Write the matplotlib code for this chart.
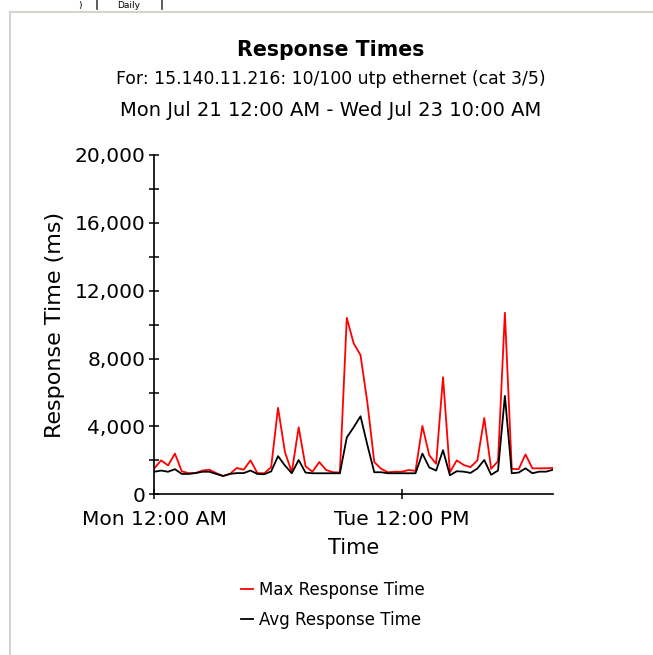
import matplotlib
matplotlib.use("Agg")
import matplotlib.pyplot as plt
import matplotlib.dates as mdates
from matplotlib.lines import Line2D
from matplotlib.ticker import MultipleLocator, FuncFormatter
import pandas as pd

plt.rcParams['font.family'] = ['DejaVu Sans']

# Hourly samples, Mon Jul 21 00:00 through Wed Jul 23 10:00
times = pd.date_range('2003-07-21 00:00', periods=59, freq='h')

max_response = [
    1530, 2000, 1700, 2400, 1350, 1250, 1250, 1400, 1450, 1250,
    1080, 1200, 1550, 1450, 2000, 1250, 1240, 1600, 5100, 2500,
    1300, 3950, 1650, 1330, 1900, 1430, 1300, 1290, 10400, 8900,
    8200, 5400, 1900, 1500, 1300, 1330, 1330, 1430, 1380, 4030,
    2300, 1800, 6900, 1300, 2000, 1730, 1600, 2000, 4500, 1500,
    1950, 10700, 1500, 1480, 2350, 1530, 1530, 1530, 1560,
]
avg_response = [
    1330, 1400, 1330, 1480, 1200, 1200, 1250, 1330, 1330, 1200,
    1080, 1200, 1250, 1250, 1400, 1200, 1180, 1350, 2250, 1700,
    1240, 2020, 1280, 1240, 1240, 1240, 1240, 1240, 3350, 3950,
    4600, 2900, 1300, 1300, 1240, 1240, 1240, 1240, 1240, 2400,
    1580, 1400, 2600, 1120, 1360, 1335, 1260, 1520, 2024, 1150,
    1400, 5800, 1240, 1280, 1530, 1240, 1335, 1335, 1450,
]

title = 'Response Times'
subtitle_1 = 'For: 15.140.11.216: 10/100 utp ethernet (cat 3/5)'
subtitle_2 = 'Mon Jul 21 12:00 AM - Wed Jul 23 10:00 AM'
x_ticks = [pd.Timestamp('2003-07-21 00:00'), pd.Timestamp('2003-07-22 12:00')]
x_range = (pd.Timestamp('2003-07-21 00:00'), pd.Timestamp('2003-07-23 10:00'))

W, H = 653, 655
fig = plt.figure(figsize=(W / 100, H / 100), dpi=100)
fig.patch.set_facecolor('white')


def fx(px):
    return px / W


def fy(py):
    return 1 - py / H


# Tab strip and panel frame at the top
panel = '#d6d3ce'
fig.add_artist(Line2D([fx(10), 1], [fy(11.5), fy(11.5)], color=panel, lw=1.5))
fig.add_artist(Line2D([fx(9.5), fx(9.5)], [fy(11.5), 0], color=panel, lw=1.5))
for sx in (97, 162):
    fig.add_artist(Line2D([fx(sx), fx(sx)], [1, fy(9)], color='#404040', lw=1.2))
fig.text(fx(129), fy(8), 'Daily', ha='center', va='baseline', fontsize=6.5, color='black')
fig.text(fx(80), fy(8), ')', ha='center', va='baseline', fontsize=6.5, color='black')

# Titles
fig.text(fx(331), fy(50), title, ha='center', va='center', fontsize=14.8, fontweight='bold')
fig.text(fx(331), fy(79), subtitle_1, ha='center', va='center', fontsize=12.4)
fig.text(fx(331), fy(111), subtitle_2, ha='center', va='center', fontsize=14)

ax = fig.add_axes([fx(154.3), fy(494.3), fx(553) - fx(154.3), fy(155) - fy(494.3)])
ax.plot(times, max_response, color='#ff0000', lw=1.3, label='Max Response Time')
ax.plot(times, avg_response, color='black', lw=1.3, label='Avg Response Time')

ax.set_xlim(*x_range)
ax.set_ylim(0, 20000)
for side in ('top', 'right'):
    ax.spines[side].set_visible(False)
for side in ('left', 'bottom'):
    ax.spines[side].set_linewidth(1.2)
    ax.spines[side].set_color('black')

ax.yaxis.set_major_locator(MultipleLocator(4000))
ax.yaxis.set_minor_locator(MultipleLocator(2000))
ax.yaxis.set_major_formatter(FuncFormatter(lambda v, p: f'{int(v):,}'))
ax.set_xticks(x_ticks)
ax.xaxis.set_major_formatter(FuncFormatter(
    lambda v, p: mdates.num2date(v).strftime('%a %I:%M %p')))

ax.tick_params(axis='both', which='both', direction='inout', length=7, width=1.1,
               colors='black', labelsize=14.5)
ax.tick_params(axis='y', pad=3)
ax.tick_params(axis='x', pad=8)

ax.set_ylabel('Response Time (ms)', fontsize=16, labelpad=7)
ax.set_xlabel('Time', fontsize=15, labelpad=6)

fig.legend(loc='center', bbox_to_anchor=(fx(333), fy(605)), frameon=False,
           fontsize=12, handlelength=0.7, handletextpad=0.4, labelspacing=0.75)

fig.savefig('out.png', dpi=100, facecolor='white')
